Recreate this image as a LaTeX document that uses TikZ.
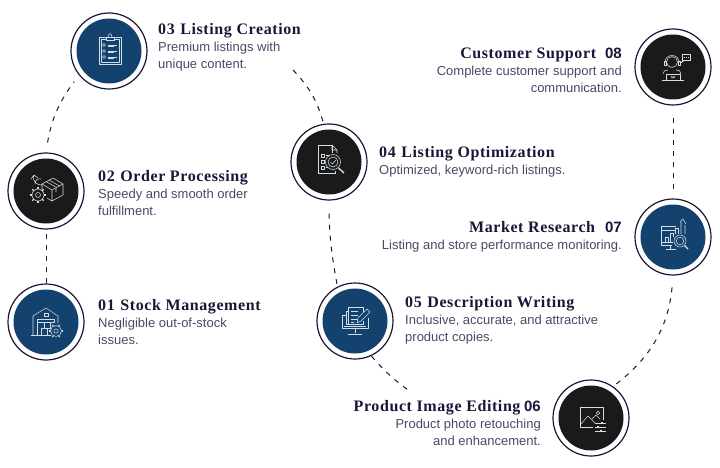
\documentclass[tikz,border=0pt]{standalone}
\usepackage{fontspec}
\setmainfont{Liberation Sans}
\newfontfamily\ttlfont[LetterSpace=3.7]{Liberation Serif}
\usepackage{xcolor}
\usetikzlibrary{positioning}
\definecolor{stepblue}{HTML}{14426E}
\definecolor{stepdark}{HTML}{1A1A1A}
\definecolor{inkline}{HTML}{1B1638}
\definecolor{bodytxt}{HTML}{4A4866}
\newcommand{\ttl}[1]{{\ttlfont\bfseries\fontsize{16}{17}\selectfont\color{inkline}#1}}
\newcommand{\stepnum}[1]{{\bfseries\fontsize{15}{17}\selectfont\color{inkline}#1}}

\begin{document}
\begin{tikzpicture}[
    x=1pt, y=-1pt,
    ring/.style={circle, draw=inkline, line width=1.2pt, fill=white, minimum size=76pt, inner sep=0pt},
    bluedisc/.style={circle, fill=stepblue, minimum size=65pt, inner sep=0pt},
    darkdisc/.style={circle, fill=stepdark, minimum size=65pt, inner sep=0pt},
    lblleft/.style={anchor=north west, align=left, inner sep=0pt, text=bodytxt, font=\fontsize{13}{17}\selectfont},
    lblright/.style={anchor=north east, align=right, inner sep=0pt, text=bodytxt, font=\fontsize{13}{17}\selectfont},
    link/.style={draw=inkline, line width=1pt, dash pattern=on 5pt off 6pt},
    ico/.style={draw=white!82!stepblue, line width=.55pt, line join=round}
]
\useasboundingbox (0,0) rectangle (720,468);

\node[ring] (r01) at (46,322) {};
\node[ring] (r02) at (46,191) {};
\node[ring] (r03) at (109,51) {};
\node[ring] (r04) at (329,162) {};
\node[ring] (r05) at (355,321) {};
\node[ring] (r06) at (591,418) {};
\node[ring] (r07) at (673,237) {};
\node[ring] (r08) at (673,67) {};

\node[bluedisc] (s01) at (r01) {};
\node[darkdisc] (s02) at (r02) {};
\node[bluedisc] (s03) at (r03) {};
\node[darkdisc] (s04) at (r04) {};
\node[bluedisc] (s05) at (r05) {};
\node[darkdisc] (s06) at (r06) {};
\node[bluedisc] (s07) at (r07) {};
\node[darkdisc] (s08) at (r08) {};

\node[lblleft] (t01) at (98,299.5) {\ttl{01\hspace{1pt} Stock Management}\\Negligible out-of-stock\\issues.};
\node[lblleft] (t02) at (98,170.5) {\ttl{02\hspace{1pt} Order Processing}\\Speedy and smooth order\\fulfillment.};
\node[lblleft] (t03) at (158,23.5) {\ttl{03\hspace{1pt} Listing Creation}\\Premium listings with\\unique content.};
\node[lblleft] (t04) at (379,146.5) {\ttl{04\hspace{1pt} Listing Optimization}\\Optimized, keyword-rich listings.};
\node[lblleft] (t05) at (405,296.5) {\ttl{05\hspace{1pt} Description Writing}\\Inclusive, accurate, and attractive\\product copies.};
\node[lblright] (t06) at (541,400.5) {\ttl{Product Image Editing} \stepnum{06}\\Product photo retouching\\and enhancement.};
\node[lblright] (t07) at (622,221.5) {\ttl{Market Research}\hspace{10pt}\stepnum{07}\\Listing and store performance monitoring.};
\node[lblright] (t08) at (622,47.5) {\ttl{Customer Support}\hspace{9pt}\stepnum{08}\\Complete customer support and\\communication.};

\coordinate (c03) at (293,70);
\coordinate (c06) at (408,390);

\draw[link] (r01.north) -- (r02.south);
\draw[link, shorten <=10pt, shorten >=8pt, bend left=14] (r02.north) to (r03.219);
\draw[link, bend left=14] (c03) to (r04.98);
\draw[link, shorten <=13pt, bend right=5] (r04.south) to (r05.117);
\draw[link, bend right=6] (r05.-65) to (c06);
\draw[link, shorten <=4pt, shorten >=9pt, bend right=24] (r06.55) to (r07.south);
\draw[link, shorten <=9pt, shorten >=8pt] (r07.north) -- (r08.south);

% warehouse
\begin{scope}[shift={(s01)}, ico]
\draw (-13,13) -- (-13,-6) -- (0,-14) -- (12,-6) -- (12,1);
\draw (-15,13) -- (5,13) (-9,13) -- (-9,-3) -- (8,-3) -- (8,1);
\draw (-9,0) -- (8,0);
\draw (-5,6) rectangle (1,13) (-2,0) rectangle (4,6) (-2,-9) rectangle (2,-6);
\draw[fill=stepblue] (10,9) circle[radius=5.5pt];
\draw (10,9) circle[radius=2.2pt];
\foreach \a in {0,60,...,300} \draw[line width=1.2pt] (10,9) ++(\a:5.5pt) -- ++(\a:1.6pt);
\end{scope}

% box and gear
\begin{scope}[shift={(s02)}, ico]
\draw (-4,-7) -- (7,-13) -- (17,-7) -- (6,-1) -- cycle;
\draw (6,-1) -- (6,10) -- (17,4) -- (17,-7) (-4,-7) -- (-4,-1) (6,10) -- (1,7);
\draw (0,-9.5) -- (10.5,-3.5) (3,-11) -- (13.5,-5) (10,-3) -- (10,1);
\draw[fill=stepdark] (-8,4) circle[radius=6pt];
\draw (-8,4) circle[radius=2.5pt];
\foreach \a in {0,45,...,315} \draw[line width=1.2pt] (-8,4) ++(\a:6pt) -- ++(\a:2pt);
\draw (-4,-6) .. controls (-9,-6) and (-14,-9) .. (-12,-16) (-12,-16) -- (-15,-12) (-12,-16) -- (-8,-13);
\draw (-11,-7) .. controls (-11,-11) and (-8,-13) .. (-5,-12);
\end{scope}

% clipboard
\begin{scope}[shift={(s03)}, ico]
\draw (-10,-14) rectangle (12,13) (-8,-12) rectangle (10,11);
\draw[fill=stepblue] (-3,-14) rectangle (5,-11);
\draw (-1,-14) -- (0,-17) -- (2,-17) -- (3,-14);
\foreach \y in {-6,0,6} {
  \draw (-5,\y) circle[radius=1.5pt];
  \draw (-1,\y) -- (8,\y) (-1,\y+1.6) -- (5,\y+1.6);
}
\end{scope}

% document under lens
\begin{scope}[shift={(s04)}, ico]
\draw (3,-9) -- (3,-17) -- (-11,-17) -- (-11,11) -- (6,11) -- (6,9);
\draw (3,-17) -- (8,-12) -- (8,-9) (3,-17) -- (3,-12) -- (8,-12);
\foreach \y in {-8,-2,4} \draw (-8,\y) rectangle ++(3,3);
\draw (-3,-7) -- (1,-7) (-3,5) -- (-1,5);
\draw[fill=stepdark] (4,0) circle[radius=7.5pt];
\draw (4,0) circle[radius=5pt];
\draw (1.5,0) -- (3.5,2) -- (7,-2);
\draw[line width=1.4pt] (9.5,6) -- (15,11);
\end{scope}

% monitor and pencil
\begin{scope}[shift={(s05)}, ico]
\draw (-9,-6) -- (-13,-6) -- (-13,7) -- (13,7) -- (13,-3);
\draw (-11,5) -- (11,5);
\draw (0,7) -- (0,12) (-7,13) -- (7,13);
\draw (-9,3) -- (-9,-10) -- (-7,-10) (-7,3) -- (-7,-14) -- (8,-14) -- (8,-9) (8,0) -- (8,3) -- (-9,3);
\foreach \y in {-10,-6,-2} \draw (-4,\y) -- (3,\y);
\draw (-4,1) -- (-1,1);
\draw[fill=stepblue] (2,2) -- (3,-3) -- (12,-12) -- (15,-9) -- (6,0) -- cycle;
\end{scope}

% picture with sliders
\begin{scope}[shift={(s06)}, ico]
\draw (2,9) -- (-11,9) -- (-11,-11) -- (12,-11) -- (12,2);
\draw (-11,7) -- (-3,-2) -- (4,5) (1,1) -- (5,-3) -- (9,1);
\draw (7,-5) circle[radius=1.8pt];
\foreach \y/\k in {5/11,9/7,13/10} {
  \draw (4,\y) -- (15,\y);
  \draw[line width=1.3pt] (\k,\y-1.2) -- (\k,\y+1.2);
}
\end{scope}

% chart with lens
\begin{scope}[shift={(s07)}, ico]
\draw (-1,8) -- (-12,8) -- (-12,-11) -- (3,-11);
\draw (-12,-7) -- (3,-7) (-12,5) -- (0,5);
\draw (-3,8) -- (-3,12) (-7,12) -- (3,12);
\draw (-8,5) -- (-8,0) -- (-5,0) -- (-5,5) (-3,5) -- (-3,-4) -- (0,-4) -- (0,0);
\draw (2,-3) -- (2,-9) -- (5,-9) -- (5,-3);
\draw (8,-3) -- (8,-15) (12,-3) -- (12,-12) (7,-15) -- (10,-18) -- (13,-13);
\draw[fill=stepblue] (7,4) circle[radius=6pt];
\draw (7,4) circle[radius=3.8pt];
\draw[line width=1.3pt] (11.5,8.5) -- (15,12);
\end{scope}

% headset and laptop
\begin{scope}[shift={(s08)}, ico]
\draw (-1,-5) circle[radius=5.5pt];
\draw (-8,-4) .. controls (-9,-14) and (7,-14) .. (6,-4);
\draw (-9,-6) rectangle (-7,-2) (5,-6) rectangle (7,-2);
\draw (-5,3) .. controls (-8,3) and (-10,4) .. (-10,7) (3,3) .. controls (6,3) and (8,4) .. (8,7);
\draw (-7,7) rectangle (7,13) (-11,13) -- (11,13);
\draw (-2,9) -- (-1,11) -- (0,9.5) -- (1,11) -- (2,9);
\draw (9,-13) rectangle (17,-7);
\draw (10,-7) -- (8,-4) -- (12,-7);
\foreach \x in {11,13,15} \draw (\x,-10) -- (\x+.8,-10);
\end{scope}

\end{tikzpicture}
\end{document}
